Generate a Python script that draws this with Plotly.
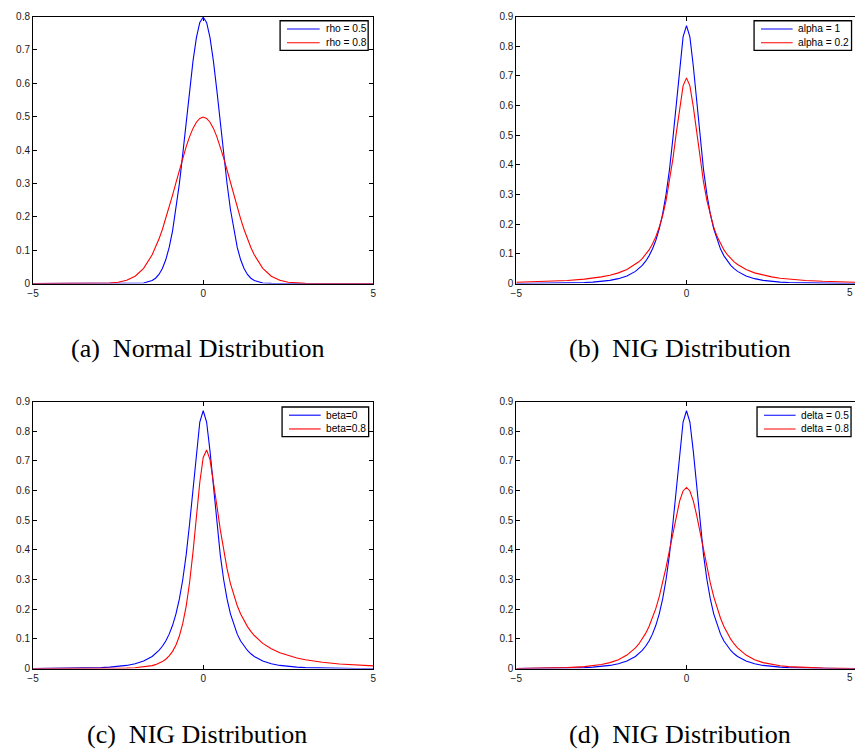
import plotly.graph_objects as go

# ---------------------------------------------------------------------------
# Data: densities sampled on a common x grid (finer near the peak)
# ---------------------------------------------------------------------------
x_grid = [-5, -4.5, -4, -3.5, -3, -2.75, -2.5, -2.25, -2, -1.75, -1.5,
          -1.4, -1.3, -1.2, -1.1, -1.0, -0.9, -0.8, -0.7, -0.6, -0.5,
          -0.4, -0.3, -0.2, -0.1, 0, 0.1, 0.2, 0.3, 0.4, 0.5, 0.6, 0.7,
          0.8, 0.9, 1.0, 1.1, 1.2, 1.3, 1.4, 1.5, 1.75, 2, 2.25, 2.5,
          2.75, 3, 3.5, 4, 4.5, 5]

# (a) Normal distribution
normal_rho05 = [0, 0, 0, 0, 0, 0, 0, 0.0000, 0.0003, 0.0017, 0.0089,
                0.0158, 0.0272, 0.0448, 0.0710, 0.1080, 0.1579, 0.2218, 0.2995, 0.3884, 0.4839,
                0.5794, 0.6665, 0.7365, 0.7821, 0.7979, 0.7821, 0.7365, 0.6665, 0.5794, 0.4839,
                0.3884, 0.2995, 0.2218, 0.1579, 0.1080, 0.0710, 0.0448, 0.0272, 0.0158, 0.0089,
                0.0017, 0.0003, 0.0000, 0, 0, 0, 0, 0, 0, 0]
normal_rho08 = [0, 0, 0, 0.0000, 0.0004, 0.0014, 0.0038, 0.0096, 0.0219, 0.0456, 0.0860,
                0.1079, 0.1332, 0.1619, 0.1938, 0.2283, 0.2649, 0.3025, 0.3401, 0.3764, 0.4102,
                0.4401, 0.4648, 0.4833, 0.4948, 0.4987, 0.4948, 0.4833, 0.4648, 0.4401, 0.4102,
                0.3764, 0.3401, 0.3025, 0.2649, 0.2283, 0.1938, 0.1619, 0.1332, 0.1079, 0.0860,
                0.0456, 0.0219, 0.0096, 0.0038, 0.0014, 0.0004, 0.0000, 0, 0, 0]

# (b)-(d) NIG distribution, reference curve alpha=1, beta=0, delta=0.5
nig_base = [0.0002, 0.0004, 0.0008, 0.0016, 0.0033, 0.0048, 0.0072, 0.0107, 0.0164, 0.0256, 0.0410,
            0.0499, 0.0611, 0.0752, 0.0932, 0.1162, 0.1460, 0.1846, 0.2350, 0.3003, 0.3841,
            0.4883, 0.6094, 0.7332, 0.8312, 0.8693, 0.8312, 0.7332, 0.6094, 0.4883, 0.3841,
            0.3003, 0.2350, 0.1846, 0.1460, 0.1162, 0.0932, 0.0752, 0.0611, 0.0499, 0.0410,
            0.0256, 0.0164, 0.0107, 0.0072, 0.0048, 0.0033, 0.0016, 0.0008, 0.0004, 0.0002]
nig_alpha02 = [0.0042, 0.0055, 0.0074, 0.0103, 0.0148, 0.0180, 0.0223, 0.0280, 0.0359, 0.0472, 0.0640,
               0.0731, 0.0839, 0.0970, 0.1132, 0.1331, 0.1581, 0.1895, 0.2291, 0.2792, 0.3423,
               0.4191, 0.5072, 0.5963, 0.6662, 0.6933, 0.6662, 0.5963, 0.5072, 0.4191, 0.3423,
               0.2792, 0.2291, 0.1895, 0.1581, 0.1331, 0.1132, 0.0970, 0.0839, 0.0731, 0.0640,
               0.0472, 0.0359, 0.0280, 0.0223, 0.0180, 0.0148, 0.0103, 0.0074, 0.0055, 0.0042]
nig_beta08 = [0.0000, 0.0000, 0.0000, 0.0001, 0.0002, 0.0004, 0.0008, 0.0015, 0.0027, 0.0052, 0.0101,
              0.0133, 0.0177, 0.0236, 0.0316, 0.0428, 0.0582, 0.0797, 0.1099, 0.1521, 0.2108,
              0.2903, 0.3925, 0.5115, 0.6282, 0.7117, 0.7372, 0.7044, 0.6342, 0.5505, 0.4692,
              0.3973, 0.3368, 0.2867, 0.2456, 0.2118, 0.1839, 0.1608, 0.1415, 0.1253, 0.1115,
              0.0851, 0.0667, 0.0532, 0.0433, 0.0356, 0.0297, 0.0213, 0.0157, 0.0119, 0.0092]
nig_delta08 = [0.0004, 0.0008, 0.0016, 0.0032, 0.0065, 0.0094, 0.0137, 0.0202, 0.0301, 0.0456, 0.0698,
               0.0831, 0.0992, 0.1186, 0.1419, 0.1699, 0.2032, 0.2428, 0.2889, 0.3411, 0.3988,
               0.4586, 0.5164, 0.5655, 0.5987, 0.6105, 0.5987, 0.5655, 0.5164, 0.4586, 0.3988,
               0.3411, 0.2889, 0.2428, 0.2032, 0.1699, 0.1419, 0.1186, 0.0992, 0.0831, 0.0698,
               0.0456, 0.0301, 0.0202, 0.0137, 0.0094, 0.0065, 0.0032, 0.0016, 0.0008, 0.0004]

x_ticks = [-5, 0, 5]
x_tick_labels = ["\u22125", "0", "5"]
y_ticks_08 = [0, 0.1, 0.2, 0.3, 0.4, 0.5, 0.6, 0.7, 0.8]
y_ticks_09 = [0, 0.1, 0.2, 0.3, 0.4, 0.5, 0.6, 0.7, 0.8, 0.9]
y_tick_labels_09 = ["0", "0.1", "0.2", "0.3", "0.4", "0.5", "0.6", "0.7", "0.8", "0.9"]

legend_a = ["rho = 0.5", "rho = 0.8"]
legend_b = ["alpha = 1", "alpha = 0.2"]
legend_c = ["beta=0", "beta=0.8"]
legend_d = ["delta = 0.5", "delta = 0.8"]
captions = ["(a)\u00a0\u00a0Normal Distribution", "(b)\u00a0\u00a0NIG Distribution",
            "(c)\u00a0\u00a0NIG Distribution", "(d)\u00a0\u00a0NIG Distribution"]

for series in (normal_rho05, normal_rho08, nig_base, nig_alpha02, nig_beta08, nig_delta08):
    assert len(series) == len(x_grid)

# ---------------------------------------------------------------------------
# Layout helpers (pixel -> paper coordinates)
# ---------------------------------------------------------------------------
W, H = 858, 755


def fx(px):
    return px / W


def fy(py):
    return 1 - py / H


BLUE = "#0000ff"
RED = "#ff0000"
TICK_FONT = dict(family="Liberation Sans, Arial, sans-serif", size=10, color="#1a1a1a")

LEFT_A, RIGHT_A = 27.3, 371.3
LEFT_B = 515.7
PANEL_W = RIGHT_A - LEFT_A
TOP_1, BOT_1 = 10.7, 282.0
TOP_2, BOT_2 = 402.0, 673.3

# right-hand panels run past the page edge; show the visible part of [-5, 5]
x_end_right = -5 + 10 * (W - LEFT_B) / PANEL_W

fig = go.Figure()

panels = [
    ("x", "y", [(normal_rho05, BLUE), (normal_rho08, RED)]),
    ("x2", "y2", [(nig_base, BLUE), (nig_alpha02, RED)]),
    ("x3", "y3", [(nig_base, BLUE), (nig_beta08, RED)]),
    ("x4", "y4", [(nig_base, BLUE), (nig_delta08, RED)]),
]
for xa, ya, curves in panels:
    for ys, col in curves:
        fig.add_trace(go.Scatter(x=x_grid, y=ys, mode="lines",
                                 line=dict(color=col, width=1.1),
                                 xaxis=xa, yaxis=ya, hoverinfo="skip",
                                 showlegend=False))

axis_common = dict(showline=True, linecolor="black", linewidth=1,
                   ticks="inside", ticklen=4, tickcolor="black", tickwidth=1,
                   showgrid=False, zeroline=False, tickfont=TICK_FONT,
                   layer="below traces", fixedrange=True)


def xaxis_def(domain, rng, anchor):
    return dict(axis_common, domain=domain, range=rng, anchor=anchor,
                tickmode="array", tickvals=x_ticks, ticktext=x_tick_labels,
                mirror="ticks")


def yaxis_def(domain, rng, anchor, ticks, labels, mirror):
    return dict(axis_common, domain=domain, range=rng, anchor=anchor,
                tickmode="array", tickvals=ticks, ticktext=labels,
                mirror=mirror)


dom_x_left = [fx(LEFT_A), fx(RIGHT_A)]
dom_x_right = [fx(LEFT_B), 1.0]
dom_y_top = [fy(BOT_1), fy(TOP_1)]
dom_y_bot = [fy(BOT_2), fy(TOP_2)]

fig.update_layout(
    xaxis=xaxis_def(dom_x_left, [-5, 5], "y"),
    yaxis=yaxis_def(dom_y_top, [0, 0.8], "x", y_ticks_08, y_tick_labels_09[:9], "ticks"),
    xaxis2=xaxis_def(dom_x_right, [-5, x_end_right], "y2"),
    yaxis2=yaxis_def(dom_y_top, [0, 0.9], "x2", y_ticks_09, y_tick_labels_09, False),
    xaxis3=xaxis_def(dom_x_left, [-5, 5], "y3"),
    yaxis3=yaxis_def(dom_y_bot, [0, 0.9], "x3", y_ticks_09, y_tick_labels_09, "ticks"),
    xaxis4=xaxis_def(dom_x_right, [-5, x_end_right], "y4"),
    yaxis4=yaxis_def(dom_y_bot, [0, 0.9], "x4", y_ticks_09, y_tick_labels_09, False),
    # tick stubs on the right-hand edge of panels (b) and (d)
    yaxis5=dict(overlaying="y2", anchor="x2", side="right", range=[0, 0.9],
                tickmode="array", tickvals=y_ticks_09, ticks="inside", ticklen=2,
                tickcolor="black", showline=False, showticklabels=False,
                showgrid=False, zeroline=False, fixedrange=True),
    yaxis6=dict(overlaying="y4", anchor="x4", side="right", range=[0, 0.9],
                tickmode="array", tickvals=y_ticks_09, ticks="inside", ticklen=2,
                tickcolor="black", showline=False, showticklabels=False,
                showgrid=False, zeroline=False, fixedrange=True),
    width=W, height=H, autosize=False,
    margin=dict(l=0, r=0, t=0, b=0, pad=0),
    paper_bgcolor="white", plot_bgcolor="white",
    showlegend=False,
)

# ---------------------------------------------------------------------------
# Legend boxes (drawn as shapes + text)
# ---------------------------------------------------------------------------
shapes = []
annotations = []
LEG_FONT = dict(family="Liberation Sans, Arial, sans-serif", size=10.2, color="black")

legend_specs = [
    # box left, box right, box top, box bottom, line x0, line x1, text x, labels
    (277.0, 366.0, 15.0, 45.0, 284.0, 317.0, 321.0, legend_a),
    (756.0, 854.5, 15.0, 45.0, 763.0, 795.0, 798.5, legend_b),
    (279.0, 366.5, 407.5, 437.5, 286.0, 318.0, 321.2, legend_c),
    (759.0, 854.0, 407.5, 437.5, 766.0, 798.0, 801.2, legend_d),
]
for bl, br, bt, bb, lx0, lx1, tx, labels in legend_specs:
    shapes.append(dict(type="rect", xref="paper", yref="paper",
                       x0=fx(bl), x1=fx(br), y0=fy(bb), y1=fy(bt),
                       line=dict(color="black", width=1.3), fillcolor="white",
                       layer="above"))
    row_y = [bt + 8.3, bt + 22.3]
    for ry, col, lab in zip(row_y, (BLUE, RED), labels):
        shapes.append(dict(type="line", xref="paper", yref="paper",
                           x0=fx(lx0), x1=fx(lx1), y0=fy(ry), y1=fy(ry),
                           line=dict(color=col, width=1.1), layer="above"))
        annotations.append(dict(xref="paper", yref="paper", x=fx(tx), y=fy(ry),
                                text=lab, showarrow=False, xanchor="left",
                                yanchor="middle", font=LEG_FONT))

# the "5" tick label of panels (b) and (d), kept inside the page edge
for base_y in (BOT_1, BOT_2):
    annotations.append(dict(xref="paper", yref="paper",
                            x=1.0, y=fy(base_y + 9.5),
                            text=x_tick_labels[-1], showarrow=False,
                            xanchor="right", yanchor="middle", font=TICK_FONT))

# ---------------------------------------------------------------------------
# Sub-figure captions
# ---------------------------------------------------------------------------
CAP_FONT = dict(family="Liberation Serif, Times New Roman, serif", size=26, color="black")
caption_pos = [(193.5, 348.0), (681.0, 348.0), (193.0, 740.0), (681.0, 740.0)]
for (cx, cy), txt in zip(caption_pos, captions):
    annotations.append(dict(xref="paper", yref="paper", x=fx(cx), y=fy(cy),
                            text=txt, showarrow=False, xanchor="center",
                            yanchor="middle", font=CAP_FONT))

fig.update_layout(shapes=shapes, annotations=annotations)

fig.write_html("out.html", config={"displayModeBar": False, "staticPlot": True})
